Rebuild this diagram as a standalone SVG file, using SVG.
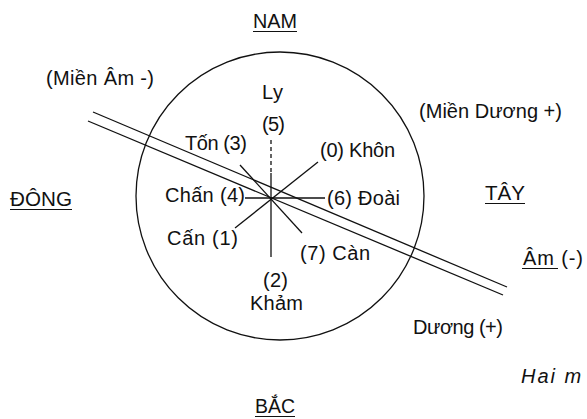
<svg xmlns="http://www.w3.org/2000/svg" width="587" height="419" viewBox="0 0 587 419">
<style>
text{font-family:"Liberation Sans",Arial,sans-serif;font-size:20px;fill:#111}
.ln{stroke:#111;stroke-width:1.3;fill:none}
.ul{stroke:#111;stroke-width:1.2}
.it{font-style:italic}
</style>
<rect width="587" height="419" fill="#fff"/>
<g id="circle"><circle class="ln" cx="280" cy="196" r="144"/></g>
<g id="divider">
<line class="ln" x1="93" y1="112" x2="507" y2="287"/>
<line class="ln" x1="88" y1="121" x2="503" y2="295"/>
</g>
<g id="connectors">
<line class="ln" x1="271" y1="140" x2="271" y2="173" stroke-dasharray="4 3"/>
<line class="ln" x1="271" y1="173" x2="271" y2="257"/>
<line class="ln" x1="245" y1="198" x2="325" y2="198"/>
<line class="ln" x1="235" y1="228" x2="318" y2="162"/>
<line class="ln" x1="240" y1="165" x2="302" y2="233"/>
</g>
<g id="nam"><text x="253" y="28" textLength="44" lengthAdjust="spacingAndGlyphs">NAM</text><line class="ul" x1="253" y1="31.5" x2="297" y2="31.5"/></g>
<g id="dong"><text x="10" y="206" textLength="62" lengthAdjust="spacingAndGlyphs">ĐÔNG</text><line class="ul" x1="10" y1="209.5" x2="72" y2="209.5"/></g>
<g id="tay"><text x="485" y="200" textLength="40" lengthAdjust="spacingAndGlyphs">TÂY</text><line class="ul" x1="485" y1="203.5" x2="525" y2="203.5"/></g>
<g id="bac"><text x="255" y="413" textLength="40" lengthAdjust="spacingAndGlyphs">BẮC</text><line class="ul" x1="255" y1="416.5" x2="295" y2="416.5"/></g>
<g id="mien-am"><text x="46" y="85" textLength="108">(Miền Âm -)</text></g>
<g id="mien-duong"><text x="419" y="118" textLength="143">(Miền Dương +)</text></g>
<g id="ly"><text x="262" y="99" textLength="21">Ly</text><text x="262" y="131" textLength="23">(5)</text></g>
<g id="ton"><text x="185" y="150" textLength="62">Tốn (3)</text></g>
<g id="khon"><text x="320" y="157" textLength="75">(0) Khôn</text></g>
<g id="chan"><text x="165" y="202" textLength="80">Chấn (4)</text></g>
<g id="doai"><text x="327" y="205" textLength="73">(6) Đoài</text></g>
<g id="can1"><text x="167" y="245" textLength="71">Cấn (1)</text></g>
<g id="can7"><text x="300" y="260" textLength="70">(7)  Càn</text></g>
<g id="kham"><text x="263" y="287" textLength="25">(2)</text><text x="250" y="310" textLength="53">Khảm</text></g>
<g id="am"><text x="523" y="265" textLength="60">Âm (-)</text><line class="ul" x1="522" y1="268.5" x2="558" y2="268.5"/></g>
<g id="duong"><text x="413" y="334" textLength="90">Dương (+)</text></g>
<g id="caption"><text class="it" x="521" y="383" letter-spacing="2">Hai m</text></g>
</svg>
